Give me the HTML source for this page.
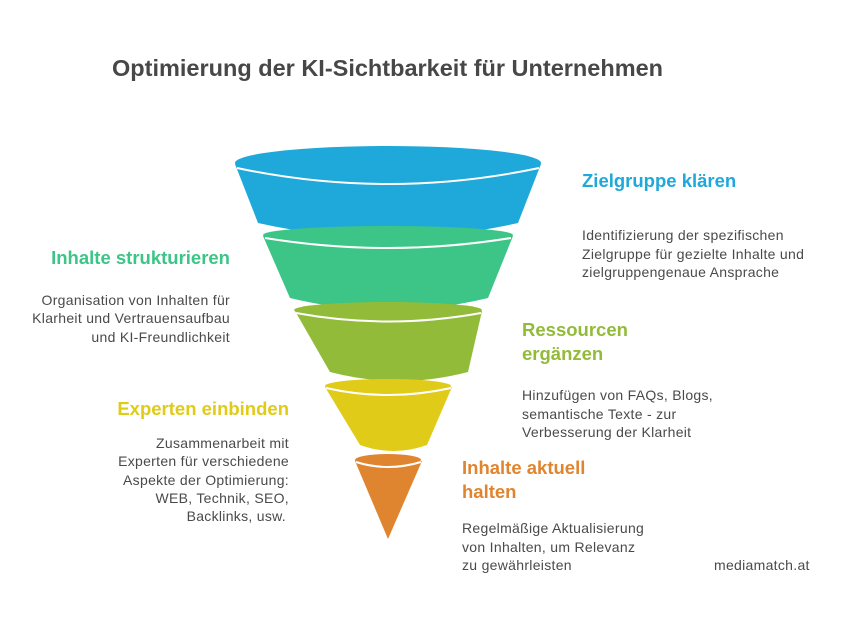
<!DOCTYPE html>
<html><head><meta charset="utf-8"><style>
html,body{margin:0;padding:0;background:#fff;}
svg{display:block;}
text{font-family:"Liberation Sans",sans-serif;}
.h{font-weight:bold;font-size:18.5px;}
.b{font-size:14px;letter-spacing:0.3px;fill:#4a4a4a;}
</style></head><body>
<svg width="841" height="619" viewBox="0 0 841 619" xmlns="http://www.w3.org/2000/svg">
<text x="112" y="76" style="font-weight:bold;font-size:23.5px;fill:#474747">Optimierung der KI-Sichtbarkeit für Unternehmen</text>

<path d="M235,164 L258,223 Q388,252 518,223 L541,164 Z" fill="#1fa8da"/>
<ellipse cx="388" cy="163" rx="153" ry="17" fill="#1fa8da"/>
<path d="M237,168 Q388,200 539,168" stroke="#fff" stroke-width="2" fill="none"/>

<path d="M263,236 L290,298 Q388,322 488,298 L513,236 Z" fill="#3cc586"/>
<ellipse cx="388" cy="235" rx="125" ry="9" fill="#3cc586"/>
<path d="M265,238 Q388,258 511,238" stroke="#fff" stroke-width="2" fill="none"/>

<path d="M295,311 L330,372 Q399,390 468,372 L482,311 Z" fill="#93bb3a"/>
<ellipse cx="388" cy="310" rx="94" ry="8" fill="#93bb3a"/>
<path d="M296,313 Q388,330 481,313" stroke="#fff" stroke-width="2" fill="none"/>

<path d="M325,387 L360,445 Q394,457 427,445 L452,387 Z" fill="#e0cb18"/>
<ellipse cx="388" cy="386" rx="63" ry="7" fill="#e0cb18"/>
<path d="M326,388 Q388,402 451,388" stroke="#fff" stroke-width="2" fill="none"/>

<path d="M355,461 L388,539 L422,461 Z" fill="#e0852f"/>
<ellipse cx="388" cy="460" rx="33" ry="6" fill="#e0852f"/>
<path d="M356,462 Q388,472 421,462" stroke="#fff" stroke-width="2" fill="none"/>

<text x="582" y="187" class="h" fill="#1fa8da">Zielgruppe klären</text>
<text x="582" y="240" class="b">Identifizierung der spezifischen</text>
<text x="582" y="259" class="b">Zielgruppe für gezielte Inhalte und</text>
<text x="582" y="277" class="b">zielgruppengenaue Ansprache</text>

<text x="230" y="264" class="h" fill="#3cc586" text-anchor="end">Inhalte strukturieren</text>
<text x="230" y="305" class="b" text-anchor="end">Organisation von Inhalten für</text>
<text x="230" y="323" class="b" text-anchor="end">Klarheit und Vertrauensaufbau</text>
<text x="230" y="342" class="b" text-anchor="end">und KI-Freundlichkeit</text>

<text x="522" y="336" class="h" fill="#93bb3a">Ressourcen</text>
<text x="522" y="360" class="h" fill="#93bb3a">ergänzen</text>
<text x="522" y="400" class="b">Hinzufügen von FAQs, Blogs,</text>
<text x="522" y="419" class="b">semantische Texte - zur</text>
<text x="522" y="437" class="b">Verbesserung der Klarheit</text>

<text x="289" y="415" class="h" fill="#e0cb18" text-anchor="end">Experten einbinden</text>
<text x="289" y="448" class="b" text-anchor="end">Zusammenarbeit mit</text>
<text x="289" y="466" class="b" text-anchor="end">Experten für verschiedene</text>
<text x="289" y="485" class="b" text-anchor="end">Aspekte der Optimierung:</text>
<text x="289" y="503" class="b" text-anchor="end">WEB, Technik, SEO,</text>
<text x="286" y="521" class="b" text-anchor="end">Backlinks, usw.</text>

<text x="462" y="474" class="h" fill="#e0852f">Inhalte aktuell</text>
<text x="462" y="498" class="h" fill="#e0852f">halten</text>
<text x="462" y="533" class="b">Regelmäßige Aktualisierung</text>
<text x="462" y="552" class="b">von Inhalten, um Relevanz</text>
<text x="462" y="570" class="b">zu gewährleisten</text>

<text x="714" y="570" class="b" fill="#333">mediamatch.at</text>
</svg>
</body></html>
